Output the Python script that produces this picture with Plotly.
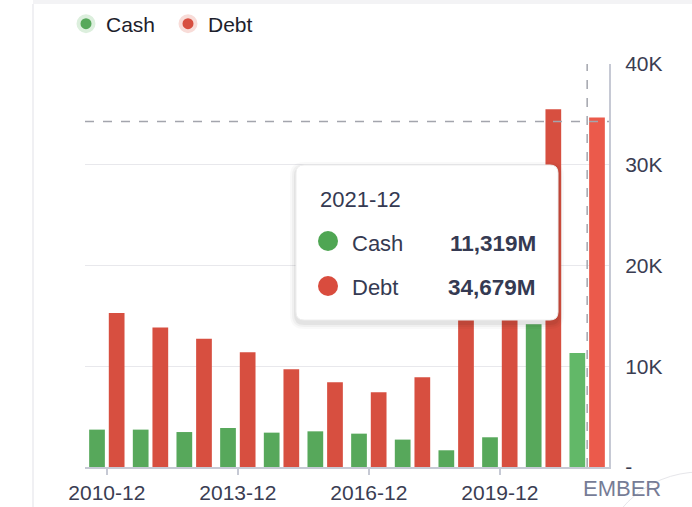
import plotly.graph_objects as go

# ---------------- data ----------------
categories = ['2010-12', '2011-12', '2012-12', '2013-12', '2014-12', '2015-12',
              '2016-12', '2017-12', '2018-12', '2019-12', '2020-12', '2021-12']
cash = [3710, 3710, 3470, 3870, 3410, 3540, 3310, 2720, 1660, 2950, 14160, 11319]
debt = [15280, 13840, 12740, 11380, 9700, 8400, 7410, 8900, 18500, 22000, 35500, 34679]
tick_cats = ['2010-12', '2013-12', '2016-12', '2019-12']
y_tickvals = [0, 10000, 20000, 30000, 40000]
y_ticktext = ['-', '10K', '20K', '30K', '40K']
hover_idx = 11          # hovered category (2021-12)
cursor_y = 34300        # horizontal crosshair position

# ---------------- styling ----------------
GREEN, GREEN_HI = '#57a85b', '#62b868'
RED, RED_HI = '#d74f40', '#eb5a4b'
TXT = '#353a52'
FONT = 'Liberation Sans'

W, H = 692, 507
L, R, T, B = 85, 609, 64, 467
PW, PH = R - L, B - T

def xp(px):
    return (px - L) / PW

def yp(py):
    return (B - py) / PH

def rrect(x0, y0, x1, y1, r):
    pts = [
        f"M {xp(x0 + r)} {yp(y0)}",
        f"L {xp(x1 - r)} {yp(y0)}",
        f"Q {xp(x1)} {yp(y0)} {xp(x1)} {yp(y0 + r)}",
        f"L {xp(x1)} {yp(y1 - r)}",
        f"Q {xp(x1)} {yp(y1)} {xp(x1 - r)} {yp(y1)}",
        f"L {xp(x0 + r)} {yp(y1)}",
        f"Q {xp(x0)} {yp(y1)} {xp(x0)} {yp(y1 - r)}",
        f"L {xp(x0)} {yp(y0 + r)}",
        f"Q {xp(x0)} {yp(y0)} {xp(x0 + r)} {yp(y0)}",
        "Z",
    ]
    return " ".join(pts)

green_cols = [GREEN_HI if i == hover_idx else GREEN for i in range(len(categories))]
red_cols = [RED_HI if i == hover_idx else RED for i in range(len(categories))]

fig = go.Figure()
fig.add_trace(go.Bar(x=categories, y=cash, name='Cash', marker=dict(color=green_cols, line=dict(width=0)),
                     showlegend=False, hoverinfo='skip'))
fig.add_trace(go.Bar(x=categories, y=debt, name='Debt', marker=dict(color=red_cols, line=dict(width=0)),
                     showlegend=False, hoverinfo='skip'))
# legend entries (round markers)
fig.add_trace(go.Scatter(x=[None], y=[None], mode='markers', name='Cash',
                         marker=dict(size=15, color=GREEN, line=dict(width=4, color='#dcefdd'))))
fig.add_trace(go.Scatter(x=[None], y=[None], mode='markers', name='Debt',
                         marker=dict(size=15, color=RED, line=dict(width=4, color='#f8dcd8'))))

shapes = []
# card borders
shapes.append(dict(type='rect', xref='paper', yref='paper', x0=xp(33), x1=xp(700), y0=yp(0), y1=yp(4),
                   fillcolor='#f3f3f5', line=dict(width=0), layer='below'))
shapes.append(dict(type='line', xref='paper', yref='paper', x0=xp(33), x1=xp(33), y0=yp(4), y1=yp(510),
                   line=dict(color='#ebebef', width=1.5), layer='below'))
# crosshair
shapes.append(dict(type='line', xref='x', yref='paper', x0=categories[hover_idx], x1=categories[hover_idx],
                   y0=0, y1=1, line=dict(color='#a3a5ad', width=1.5, dash='dash'), layer='above'))
shapes.append(dict(type='line', xref='paper', yref='y', x0=0, x1=1, y0=cursor_y, y1=cursor_y,
                   line=dict(color='#a3a5ad', width=1.5, dash='dash'), layer='above'))
# tooltip shadow + box
for i, a in enumerate([0.025, 0.035, 0.05]):
    g = 6 - 2 * i
    shapes.append(dict(type='path', xref='paper', yref='paper',
                       path=rrect(296 - g, 165 - g + 3, 558 + g, 320 + g + 3, 8 + g),
                       fillcolor=f'rgba(0,0,0,{a})', line=dict(width=0), layer='above'))
shapes.append(dict(type='path', xref='paper', yref='paper', path=rrect(296, 165, 558, 320, 8),
                   fillcolor='white', line=dict(color='#eeeeee', width=1), layer='above'))
# tooltip markers
for cy, col in [(241, '#4fa653'), (286, '#d94c3e')]:
    shapes.append(dict(type='circle', xref='paper', yref='paper', x0=xp(318), x1=xp(338),
                       y0=yp(cy - 10), y1=yp(cy + 10), fillcolor=col, line=dict(width=0), layer='above'))
# bottom-right floating circle
shapes.append(dict(type='circle', xref='paper', yref='paper', x0=xp(598), x1=xp(802), y0=yp(472), y1=yp(676),
                   fillcolor='white', line=dict(color='#e6e6ea', width=1), layer='above'))

annotations = [
    dict(xref='paper', yref='paper', x=xp(318), y=yp(199), text=categories[hover_idx], showarrow=False,
         xanchor='left', yanchor='middle', font=dict(family=FONT, size=22, color=TXT)),
    dict(xref='paper', yref='paper', x=xp(350), y=yp(243), text='Cash', showarrow=False,
         xanchor='left', yanchor='middle', font=dict(family=FONT, size=22, color=TXT)),
    dict(xref='paper', yref='paper', x=xp(350), y=yp(287), text='Debt', showarrow=False,
         xanchor='left', yanchor='middle', font=dict(family=FONT, size=22, color=TXT)),
    dict(xref='paper', yref='paper', x=xp(538), y=yp(243), text=f"<b>{cash[hover_idx]:,.0f}M</b>",
         showarrow=False, xanchor='right', yanchor='middle', font=dict(family=FONT, size=22.5, color=TXT)),
    dict(xref='paper', yref='paper', x=xp(538), y=yp(287), text=f"<b>{debt[hover_idx]:,.0f}M</b>",
         showarrow=False, xanchor='right', yanchor='middle', font=dict(family=FONT, size=22.5, color=TXT)),
    dict(xref='paper', yref='paper', x=xp(581), y=yp(488), text='EMBER', showarrow=False,
         xanchor='left', yanchor='middle', font=dict(family=FONT, size=22, color='#767c96')),
]

fig.update_layout(
    width=W, height=H,
    margin=dict(l=L, r=W - R, t=T, b=H - B, pad=0, autoexpand=False),
    paper_bgcolor='white', plot_bgcolor='white',
    barmode='group', bargap=0.1, bargroupgap=0.2,
    font=dict(family=FONT, size=21, color=TXT),
    legend=dict(orientation='h', xref='container', yref='container', x=66 / W, y=1 - 24 / H,
                xanchor='left', yanchor='middle',
                font=dict(family=FONT, size=21, color='#1d1e2c'), entrywidth=57,
                bgcolor='rgba(0,0,0,0)', itemclick=False),
    shapes=shapes, annotations=annotations,
)
fig.update_xaxes(type='category', categoryorder='array', categoryarray=categories,
                 tickvals=tick_cats, ticktext=tick_cats, ticks='outside', ticklen=6, tickwidth=2,
                 tickcolor='#c6c9d4', showline=True, linecolor='#c6c9d4', linewidth=2, automargin=False,
                 showgrid=False, tickfont=dict(family=FONT, size=21, color='#3a3d52'))
fig.update_yaxes(side='right', range=[0, 40000], tickvals=y_tickvals, ticktext=y_ticktext,
                 showgrid=True, gridcolor='#e8e8ec', gridwidth=1, zeroline=False, automargin=False,
                 showline=True, linecolor='#c6c9d4', linewidth=2, ticks='', ticklabelstandoff=10,
                 tickfont=dict(family=FONT, size=21, color='#3a3d52'))

fig.write_html("out.html", config={'displayModeBar': False},
               post_script="document.body.style.margin='0px';document.body.style.overflow='hidden';")
